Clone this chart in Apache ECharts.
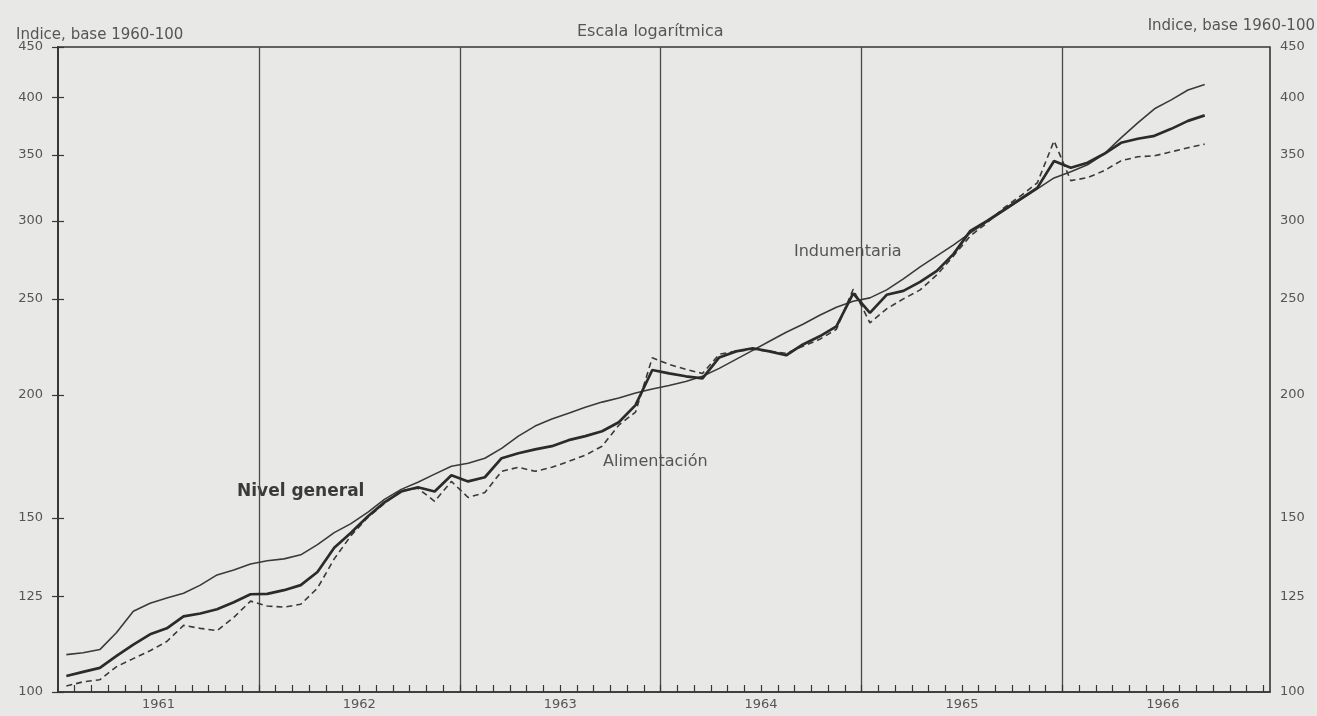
<!DOCTYPE html>
<html>
<head>
<meta charset="utf-8">
<script src="https://cdn.jsdelivr.net/npm/echarts@6/dist/echarts.min.js"></script>
<style>
html,body{margin:0;padding:0;background:#e8e8e6;}
#chart{width:1317px;height:716px;}
</style>
</head>
<body>
<div id="chart"></div>
<script>
// Years shown on the horizontal axis (monthly data, Jan 1961 - Sep 1966)
const years = [1961, 1962, 1963, 1964, 1965, 1966];
// Tick labels of the logarithmic vertical axes
const yTicks = [100, 125, 150, 200, 250, 300, 350, 400, 450];

// Nivel general (thick line)
const nivelGeneral = [
  103.8, 104.8, 105.8, 108.8, 111.7, 114.4, 116.0, 119.3, 120.1, 121.3, 123.3, 125.6,
  125.7, 126.8, 128.3, 132.3, 140.0, 145.0, 150.6, 155.6, 159.6, 161.2, 159.6, 165.8,
  163.4, 165.0, 172.5, 174.5, 176.1, 177.4, 179.9, 181.6, 183.7, 187.6, 195.2, 211.9,
  210.2, 208.8, 207.8, 218.2, 221.3, 222.9, 221.3, 219.3, 224.9, 229.2, 234.6, 253.4,
  242.1, 252.5, 254.8, 260.2, 267.0, 277.8, 293.1, 300.0, 307.8, 315.8, 324.0, 345.0,
  339.6, 343.6, 350.8, 359.9, 363.3, 365.8, 371.8, 378.8, 383.7
];
// Indumentaria (thin line)
const indumentaria = [
  109.1, 109.6, 110.4, 114.9, 120.7, 123.0, 124.5, 125.9, 128.3, 131.4, 132.9, 134.8,
  135.8, 136.4, 137.7, 141.0, 145.0, 148.1, 152.0, 156.7, 160.4, 163.1, 166.2, 169.3,
  170.5, 172.5, 176.5, 181.6, 185.9, 189.0, 191.6, 194.3, 196.6, 198.5, 200.8, 202.7,
  204.4, 206.3, 208.8, 212.7, 217.2, 221.8, 226.6, 231.4, 235.7, 240.7, 245.3, 248.7,
  250.7, 255.4, 262.1, 269.5, 276.5, 283.7, 291.7, 299.3, 307.1, 315.1, 323.2, 331.6,
  336.5, 341.9, 350.8, 364.1, 377.1, 389.6, 397.8, 407.1, 412.4
];
// Alimentación (dashed line)
const alimentacion = [
  101.4, 102.4, 102.9, 106.1, 108.1, 110.1, 112.5, 116.8, 116.0, 115.4, 119.0, 123.6,
  122.2, 121.9, 122.7, 127.4, 136.4, 144.0, 150.2, 155.2, 160.0, 160.8, 156.0, 163.4,
  157.4, 159.2, 167.3, 168.9, 167.3, 168.9, 171.2, 173.7, 177.4, 186.3, 192.1, 218.0,
  214.7, 212.2, 210.2, 219.8, 221.3, 222.4, 221.3, 220.3, 223.9, 227.6, 233.0, 255.8,
  236.5, 244.4, 250.1, 255.4, 264.5, 276.5, 289.7, 298.6, 309.2, 318.0, 327.8, 361.5,
  329.5, 331.8, 337.3, 345.1, 348.4, 349.2, 352.4, 355.8, 358.8
];

const totalMonths = years.length * 12;
const toPoints = arr => arr.map((v, i) => [i + 0.5, v]);

const ink = '#363636';
const textCol = '#555555';
const font = '"DejaVu Sans", Verdana, sans-serif';
const clear = 'rgba(0,0,0,0)';
const yearLine = '#4a4a4a';

const chart = echarts.init(document.getElementById('chart'));

function yAxisDef(pos) {
  return {
    type: 'log',
    position: pos,
    min: yTicks[0],
    max: yTicks[yTicks.length - 1],
    logBase: 10,
    axisLine: { show: true, lineStyle: { color: ink, width: 1.6 } },
    axisTick: { show: true, inside: true, length: 6, customValues: yTicks, lineStyle: { color: ink, width: 1.2 } },
    axisLabel: {
      show: true, customValues: yTicks, color: textCol, fontFamily: font, fontSize: 13,
      margin: pos === 'left' ? 15 : 10,
      formatter: v => String(Math.round(v))
    },
    splitLine: { show: false },
    minorTick: { show: false },
    minorSplitLine: { show: false }
  };
}

chart.setOption({
  backgroundColor: '#e8e8e6',
  animation: false,
  grid: {
    left: 58, right: 47, top: 47, bottom: 24,
    show: true, borderColor: ink, borderWidth: 1.6, backgroundColor: 'transparent'
  },
  xAxis: [
    {
      type: 'value', min: 0, max: totalMonths + 0.4, interval: 1, position: 'bottom',
      axisLine: { show: true, lineStyle: { color: ink, width: 1.6 } },
      axisTick: { show: true, inside: true, length: 7, lineStyle: { color: ink, width: 1.2 } },
      axisLabel: {
        show: true, color: textCol, fontFamily: font, fontSize: 13, margin: 6,
        showMinLabel: false, showMaxLabel: false,
        formatter: v => {
          const r = Math.round(v);
          return (Math.abs(v - r) < 1e-6 && r % 12 === 6) ? String(years[(r - 6) / 12]) : '';
        }
      },
      splitLine: { show: false }
    },
    {
      type: 'value', min: 0, max: totalMonths + 0.4, interval: 12, position: 'top',
      axisLine: { show: false }, axisTick: { show: false }, axisLabel: { show: false },
      splitLine: {
        show: true,
        lineStyle: { color: [clear, yearLine, yearLine, yearLine, yearLine, yearLine, clear, clear], width: 1.3 }
      }
    }
  ],
  yAxis: [yAxisDef('left'), yAxisDef('right')],
  graphic: [
    { type: 'text', left: 16, top: 28, style: { text: 'Indice, base 1960-100', fill: textCol, font: '15px ' + font } },
    { type: 'text', left: 577, top: 24, style: { text: 'Escala logarítmica', fill: textCol, font: '16px ' + font } },
    { type: 'text', right: 2, top: 19, style: { text: 'Indice, base 1960-100', fill: textCol, font: '15px ' + font } },
    { type: 'text', left: 237, top: 483, style: { text: 'Nivel general', fill: '#3a3a3a', font: 'bold 17px ' + font } },
    { type: 'text', left: 794, top: 244, style: { text: 'Indumentaria', fill: textCol, font: '16px ' + font } },
    { type: 'text', left: 603, top: 454, style: { text: 'Alimentación', fill: textCol, font: '16px ' + font } }
  ],
  series: [
    {
      name: 'Indumentaria', type: 'line', xAxisIndex: 0, yAxisIndex: 0,
      data: toPoints(indumentaria), showSymbol: false, smooth: false,
      lineStyle: { color: '#3a3a3a', width: 1.6 }
    },
    {
      name: 'Alimentación', type: 'line', xAxisIndex: 0, yAxisIndex: 0,
      data: toPoints(alimentacion), showSymbol: false, smooth: false,
      lineStyle: { color: '#3a3a3a', width: 1.6, type: [6, 4] }
    },
    {
      name: 'Nivel general', type: 'line', xAxisIndex: 0, yAxisIndex: 0,
      data: toPoints(nivelGeneral), showSymbol: false, smooth: false,
      lineStyle: { color: '#2b2b2b', width: 2.7 }
    }
  ]
});
</script>
</body>
</html>
